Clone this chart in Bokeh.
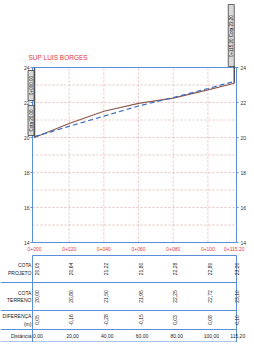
import math
from bokeh.plotting import figure
from bokeh.models import Range1d
from bokeh.layouts import column
from bokeh.embed import file_html
from bokeh.resources import INLINE
from bokeh.core.properties import value

# ---------------- data ----------------
stations = [0, 20, 40, 60, 80, 100, 115.2]
station_labels = ["0+000", "0+020", "0+040", "0+060", "0+080", "0+100", "0+115,20"]
distance_labels = ["0,00", "20,00", "40,00", "60,00", "80,00", "100,00", "115,20"]
terrain = [20.00, 20.80, 21.50, 21.95, 22.25, 22.72, 23.10]
design = [20.05, 20.64, 21.22, 21.80, 22.28, 22.80, 23.20]
difference = [0.05, -0.16, -0.28, -0.15, 0.03, 0.08, 0.10]
y_ticks = [14, 16, 18, 20, 22, 24]
grid_y = [14, 15, 16, 17, 18, 19, 20, 21, 22, 23, 24]
row_labels = ["COTA\nPROJETO", "COTA\nTERRENO", "DIFERENÇA\n(m)", "Distância"]
title_text = "SUP LUIS BORGES"
start_tags = ["0+000,00", "Cota 20,00"]
end_tag = "0+115,20  Cota 23,20"

FONT = "Liberation Sans"
BLUE = "#5b8fd9"
GRID = "#e3a3a3"
RED = "#e0393e"
DARK = "#333333"


def fmt(v):
    return f"{v:.2f}".replace(".", ",")


# layout (pixels)
W = 250
H_TOP = 254
H_TAB = 88
X0PX = 34.0          # pixel position of station 0
KX = 1.734           # pixels per metre
Y24PX = 67.0         # pixel position of elevation 24
KY = 17.5            # pixels per metre of elevation

xr = (-X0PX / KX, (W - X0PX) / KX)
x_lo, x_hi = -2.0 / KX, 202.0 / KX        # chart box edges (px 32 .. 236)
y_top_val = y_ticks[-1] + Y24PX / KY
y_bot_val = y_ticks[-1] - (H_TOP - Y24PX) / KY

# ---------------- profile ----------------
p = figure(width=W, height=H_TOP, x_range=Range1d(*xr), y_range=Range1d(y_bot_val, y_top_val),
           output_backend="svg", toolbar_location=None,
           min_border_left=0, min_border_right=0, min_border_top=0, min_border_bottom=0)
p.axis.visible = False
p.grid.visible = False
p.outline_line_color = None
p.background_fill_color = "white"
p.border_fill_color = "white"

ymin, ymax = y_ticks[0], y_ticks[-1]

# grid
p.segment(x0=[x_lo] * len(grid_y), y0=grid_y, x1=[x_hi] * len(grid_y), y1=grid_y,
          line_color=GRID, line_dash="2 2", line_width=0.7)
p.segment(x0=stations[1:-1], y0=[ymin] * (len(stations) - 2), x1=stations[1:-1],
          y1=[ymax] * (len(stations) - 2), line_color=GRID, line_dash="2 2", line_width=0.7)

# chart box
p.quad(left=[x_lo], right=[x_hi], bottom=[ymin], top=[ymax], fill_color=None,
       line_color=BLUE, line_width=1)

# tick marks
p.segment(x0=[x_lo - 2 / KX] * len(y_ticks), y0=y_ticks, x1=[x_lo] * len(y_ticks), y1=y_ticks,
          line_color=BLUE, line_width=1)
p.segment(x0=[x_hi] * len(y_ticks), y0=y_ticks, x1=[x_hi + 2 / KX] * len(y_ticks), y1=y_ticks,
          line_color=BLUE, line_width=1)

# axis labels
p.text(x=[x_lo - 3 / KX] * len(y_ticks), y=y_ticks, text=[str(v) for v in y_ticks],
       text_align="right", text_baseline="middle", text_font=value(FONT),
       text_font_size="5px", text_color=DARK)
p.text(x=[x_hi + 4 / KX] * len(y_ticks), y=y_ticks, text=[str(v) for v in y_ticks],
       text_align="left", text_baseline="middle", text_font=value(FONT),
       text_font_size="5px", text_color=DARK)
p.text(x=stations, y=[ymin - 6 / KY] * len(stations), text=station_labels,
       text_align="center", text_baseline="middle", text_font=value(FONT),
       text_font_size="5px", text_color=RED)

# profile lines
p.line(stations, terrain, line_color="#8c5a4f", line_width=1.2)
p.line(stations, design, line_color="#3b6cc4", line_width=1.2, line_dash="5 3")

# start / end verticals
p.segment(x0=[stations[0], stations[-1]], y0=[terrain[0], terrain[-1]],
          x1=[stations[0], stations[-1]], y1=[ymax, ymax + 2 / KY],
          line_color="#555555", line_width=1.5)

# title
p.text(x=[x_lo - 4 / KX], y=[ymax + 10 / KY], text=[title_text], text_align="left",
       text_baseline="middle", text_font=value(FONT), text_font_size="6.5px",
       text_color=RED)

# start tags (boxes with rotated text)
tag_x = stations[0] - 3.5 / KX
tag_y = [ymax - 18 / KY, ymax - 53 / KY]
p.rect(x=[tag_x] * 2, y=tag_y, width=6, height=30, width_units="screen", height_units="screen",
       fill_color="#d9d9d9", line_color="#444444", line_width=0.8)
p.text(x=[tag_x] * 2, y=tag_y, text=start_tags, angle=math.pi / 2, text_align="center",
       text_baseline="middle", text_font=value(FONT), text_font_size="4.5px",
       text_color="#111111")

# end tag
etag_x = stations[-1] - 3 / KX
etag_y = ymax + 32 / KY
p.rect(x=[etag_x], y=[etag_y], width=6, height=62, width_units="screen", height_units="screen",
       fill_color="#d9d9d9", line_color="#444444", line_width=0.8)
p.text(x=[etag_x], y=[etag_y], text=[end_tag], angle=math.pi / 2, text_align="center",
       text_baseline="middle", text_font=value(FONT), text_font_size="4.5px",
       text_color="#111111")

# ---------------- table ----------------
t = figure(width=W, height=H_TAB, x_range=Range1d(*xr), y_range=Range1d(H_TAB, 0),
           output_backend="svg", toolbar_location=None,
           min_border_left=0, min_border_right=0, min_border_top=0, min_border_bottom=0)
t.axis.visible = False
t.grid.visible = False
t.outline_line_color = None
t.background_fill_color = "white"
t.border_fill_color = "white"

row_lines = [1, 28, 56, 75, 87.5]
row_centers = [14.5, 42, 65.5, 81]
t.segment(x0=[x_lo] + [xr[0]] * 4, y0=row_lines, x1=[x_hi] * 5, y1=row_lines,
          line_color=BLUE, line_width=1)
t.segment(x0=[x_lo, x_hi], y0=[row_lines[0]] * 2, x1=[x_lo, x_hi], y1=[row_lines[-1]] * 2,
          line_color=BLUE, line_width=1)

for rc, vals in zip(row_centers[:3], [design, terrain, difference]):
    t.text(x=[s + 1.3 for s in stations], y=[rc] * len(stations), text=[fmt(v) for v in vals],
           angle=math.pi / 2, text_align="center", text_baseline="middle",
           text_font=value(FONT), text_font_size="5px", text_color="#222222")
t.text(x=[s + 2 for s in stations], y=[row_centers[3]] * len(stations), text=distance_labels,
       text_align="center", text_baseline="middle",
       text_font=value(FONT), text_font_size="5px", text_color="#222222")
t.text(x=[x_lo - 0.6] * 4, y=row_centers, text=row_labels,
       text_align="right", text_baseline="middle",
       text_font=value(FONT), text_font_size="5px", text_color="#222222")

layout = column(p, t, spacing=0)
open("out.html", "w").write(file_html(layout, INLINE))
